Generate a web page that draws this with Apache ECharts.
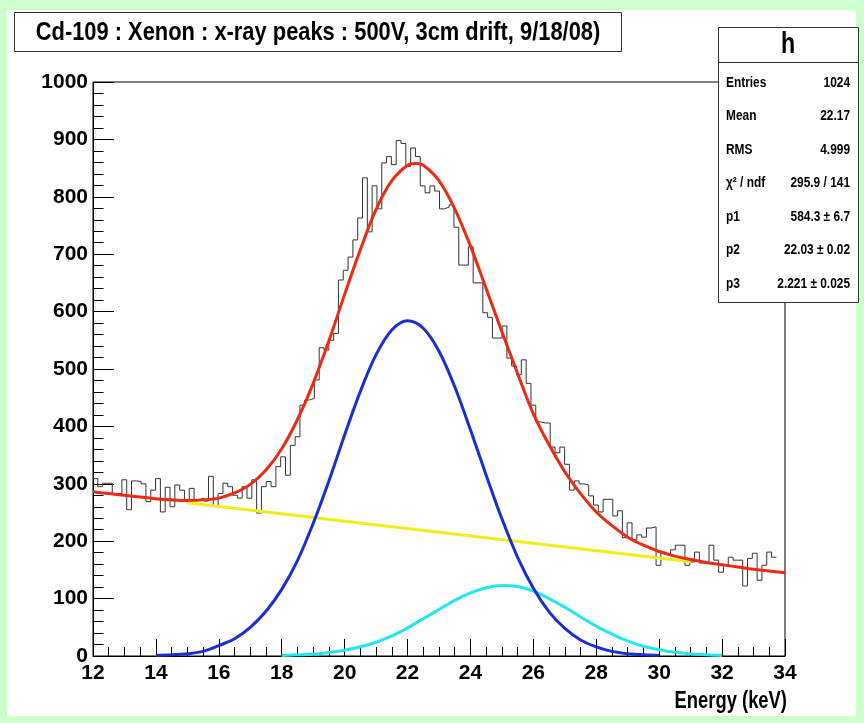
<!DOCTYPE html>
<html>
<head>
<meta charset="utf-8">
<script src="https://cdn.jsdelivr.net/npm/echarts@6/dist/echarts.min.js"></script>
<style>
  html, body { margin: 0; padding: 0; background: #ccffcc; }
  #chart { width: 864px; height: 723px; }
</style>
</head>
<body>
<div id="chart"></div>
<script>
// histogram: Cd-109 x-ray peaks in xenon, counts per bin
const histStart = 12;
const binWidth = 0.153;
const histCounts = [
  309, 295, 301, 301, 283, 283, 307, 255, 305, 304, 300, 269, 289, 309, 251, 294, 260, 298, 289, 272,
  292, 272, 275, 270, 313, 262, 283, 301,
  295, 280, 275, 295, 275, 307, 249, 295, 304, 295, 330, 347, 315, 367, 382, 437, 446, 449, 481, 537,
  533, 550, 562, 655, 672, 695, 725, 763, 833,
  739, 819, 779, 859, 870, 856, 898, 893, 853, 885, 870, 819, 807, 819, 810, 779, 782, 786, 747, 681,
  681, 713, 650, 650, 598, 590, 554, 554, 575, 519, 505, 490,
  516, 475, 437, 408, 406, 406, 364, 354, 364, 334, 289, 305, 300, 298, 279, 263, 251, 273, 273, 244,
  253, 206, 232, 202, 211, 207, 223, 225,
  158, 181, 177, 185, 193, 193, 158, 164, 181, 162, 162, 193, 167, 146, 158, 172, 167, 167, 122, 170,
  179, 132, 158, 181, 172
];

// fit curves
const fitX = [12, 12.5, 13, 13.5, 14, 14.5, 15, 15.5, 16, 16.5, 17, 17.5, 18, 18.5, 19, 19.5, 20, 20.5,
  21, 21.5, 22, 22.25, 22.5, 23, 23.5, 24, 24.5, 25, 25.5, 26, 26.5, 27, 27.5, 28, 28.5, 29, 29.5, 30, 30.5,
  31, 31.5, 32, 32.5, 33, 33.5, 34];
const totalFit = [286, 283, 280, 277, 274, 272, 271, 272, 275, 284, 299, 324, 361, 412, 475, 549, 630, 708,
  778, 828, 855, 858, 855, 828, 779, 714, 640, 565, 492, 422, 368, 321, 283, 251, 227, 207, 193, 182, 174,
  168, 163, 159, 155, 151, 148, 145];

const mainX = [14, 14.5, 15, 15.5, 16, 16.5, 17, 17.5, 18, 18.5, 19, 19.5, 20, 20.5, 21, 21.5, 22, 22.5,
  23, 23.5, 24, 24.5, 25, 25.5, 26, 26.5, 27, 27.5, 28, 28.5, 29, 29.5, 30];
const mainPeak = [1, 2, 4, 8, 18, 30, 50, 78, 116, 166, 231, 305, 385, 461, 525, 568, 584, 571,
  531, 469, 394, 315, 239, 172, 118, 77, 48, 28, 16, 8, 4, 2, 1];

const betaX = [18, 18.5, 19, 19.5, 20, 20.5, 21, 21.5, 22, 22.5, 23, 23.5, 24, 24.5, 25, 25.5, 26, 26.5,
  27, 27.5, 28, 28.5, 29, 29.5, 30, 30.5, 31, 31.5, 32];
const betaPeak = [1, 2, 3, 6, 10, 16, 24, 35, 49, 65, 81, 97, 110, 119, 123, 121, 113, 100,
  85, 68, 52, 38, 26, 17, 11, 6.5, 3.7, 2, 1];

const bgX = [15, 31];
const bgLine = [267, 164];

const titleText = 'Cd-109 : Xenon : x-ray peaks : 500V, 3cm drift, 9/18/08)';
const statNames = ['Entries', 'Mean', 'RMS', 'χ² / ndf', 'p1', 'p2', 'p3'];
const statValues = ['1024', '22.17', '4.999', '295.9 / 141', '584.3 ± 6.7', '22.03 ± 0.02', '2.221 ± 0.025'];

const FONT = '"Liberation Sans", Arial, Helvetica, sans-serif';

const histData = histCounts.map((v, i) => [histStart + i * binWidth, v]);
histData.push([histStart + histCounts.length * binWidth, histCounts[histCounts.length - 1]]);

const pairs = (xs, ys) => xs.map((x, i) => [x, ys[i]]);

const chart = echarts.init(document.getElementById('chart'), null, {renderer: 'canvas'});

function curve(name, data, color, width) {
  return {
    type: 'line', name, data,
    smooth: 0.35,
    symbol: 'none', silent: true,
    lineStyle: {color, width},
    animation: false,
  };
}

// narrow bold text, like the ROOT canvas lettering
function label(text, x, y, size, align, squeeze) {
  return {
    type: 'text', z: 101, x, y, scaleX: squeeze,
    style: {text, font: 'bold ' + size + 'px ' + FONT, fill: '#000', textAlign: align, textVerticalAlign: 'middle'}
  };
}

const statTexts = [];
statNames.forEach((n, i) => {
  const y = 83 + i * 33.5;
  statTexts.push(label(n, 726, y, 14, 'left', 0.85));
  statTexts.push(label(statValues[i], 850, y, 14, 'right', 0.85));
});

chart.setOption({
  backgroundColor: '#ccffcc',
  animation: false,
  grid: {
    left: 93, top: 82, width: 692, height: 574,
    show: true, backgroundColor: '#fff', borderColor: '#000', borderWidth: 1,
    containLabel: false, outerBoundsMode: 'none'
  },
  xAxis: {
    type: 'value', min: 12, max: 34, interval: 2,
    axisLine: {show: true, onZero: false, lineStyle: {color: '#000', width: 1}},
    axisTick: {show: true, inside: true, length: 17, lineStyle: {color: '#000'}},
    minorTick: {show: true, splitNumber: 4, length: 9, lineStyle: {color: '#000'}},
    splitLine: {show: false},
    axisLabel: {color: '#000', fontFamily: FONT, fontWeight: 'bold', fontSize: 21, margin: 7,
      formatter: v => String(v)}
  },
  yAxis: {
    type: 'value', min: 0, max: 1000, interval: 100,
    axisLine: {show: true, lineStyle: {color: '#000', width: 1}},
    axisTick: {show: true, inside: true, length: 21, lineStyle: {color: '#000'}},
    minorTick: {show: true, splitNumber: 5, length: 10.5, lineStyle: {color: '#000'}},
    splitLine: {show: false},
    axisLabel: {color: '#000', fontFamily: FONT, fontWeight: 'bold', fontSize: 21, margin: 5,
      formatter: v => String(v)}
  },
  graphic: [
    {type: 'rect', z: -10, shape: {x: 7, y: 10, width: 849, height: 706}, style: {fill: '#fff'}},
    {type: 'rect', z: 100, shape: {x: 14.5, y: 12.5, width: 607, height: 39},
      style: {fill: '#fff', stroke: '#333', lineWidth: 1}},
    label(titleText, 318, 33, 25, 'center', 0.875),
    {type: 'rect', z: 100, shape: {x: 718.5, y: 27.5, width: 140, height: 275},
      style: {fill: '#fff', stroke: '#333', lineWidth: 1}},
    {type: 'line', z: 101, shape: {x1: 718.5, y1: 62.5, x2: 858.5, y2: 62.5}, style: {stroke: '#333', lineWidth: 1}},
    label('h', 788, 45, 29, 'center', 0.8),
    ...statTexts,
    label('Energy (keV)', 787, 702, 23, 'right', 0.8)
  ],
  series: [
    {
      type: 'line', name: 'h', data: histData, step: 'end',
      symbol: 'none', silent: true,
      lineStyle: {color: '#333', width: 1}
    },
    curve('background', pairs(bgX, bgLine), '#f2ee1c', 3),
    curve('kbeta', pairs(betaX, betaPeak), '#22e6f0', 3),
    curve('kalpha', pairs(mainX, mainPeak), '#1a2ed4', 3),
    curve('total', pairs(fitX, totalFit), '#ee2a12', 3)
  ]
});
</script>
</body>
</html>
